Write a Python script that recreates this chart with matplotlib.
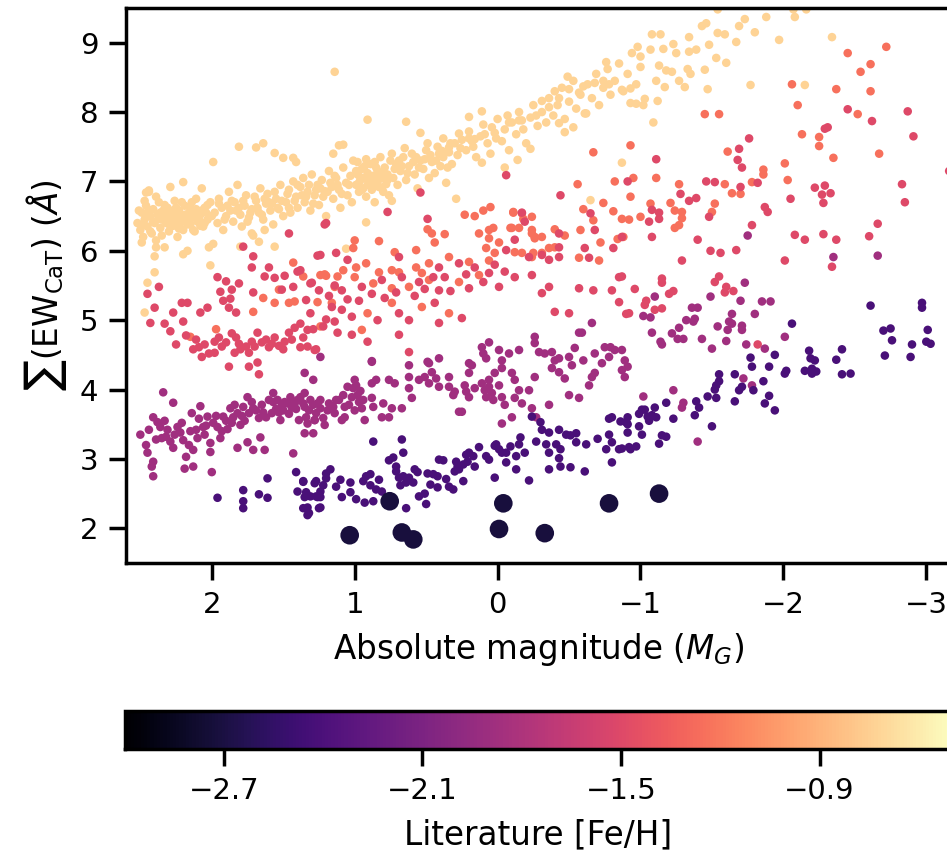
import numpy as np
import matplotlib
matplotlib.use("Agg")
from matplotlib import pyplot as plt

# literature [Fe/H] of each sequence
feh_rich = -0.73
feh_orange = -1.25
feh_red = -1.50
feh_magenta = -1.88
feh_violet = -2.42
feh_big = -2.72

# (M_G, sum EW_CaT)
rich = [
    (2.52, 6.40), (2.50, 6.30), (2.49, 6.55), (2.48, 6.20), (2.47, 6.45), (2.46, 6.65), (2.45, 6.35),
    (2.44, 6.85), (2.43, 6.50), (2.42, 6.25), (2.41, 6.60), (2.40, 6.40), (2.39, 6.15), (2.38, 6.52),
    (2.37, 6.70), (2.36, 6.33), (2.35, 6.45), (2.34, 6.58), (2.33, 6.05), (2.32, 6.40), (2.31, 6.62),
    (2.30, 6.28), (2.29, 6.48), (2.28, 6.55), (2.27, 6.36), (2.26, 6.72), (2.25, 6.44), (2.24, 6.20),
    (2.23, 6.58), (2.22, 6.40), (2.21, 6.50), (2.20, 6.30), (2.19, 6.65), (2.18, 6.45), (2.17, 6.00),
    (2.16, 6.55), (2.15, 6.38), (2.14, 6.70), (2.13, 6.48), (2.12, 6.28), (2.11, 6.60), (2.10, 6.42),
    (2.08, 6.52), (2.07, 6.90), (2.06, 6.35), (2.05, 6.62), (2.03, 6.45), (2.02, 6.05), (2.01, 6.70),
    (2.00, 6.50), (2.51, 6.58), (2.49, 6.12), (2.47, 6.72), (2.45, 6.50), (2.43, 6.28), (2.41, 6.42),
    (2.39, 6.78), (2.37, 6.46), (2.35, 6.22), (2.33, 6.66), (2.31, 6.48), (2.29, 6.35), (2.27, 6.58),
    (2.25, 6.62), (2.23, 6.32), (2.21, 6.70), (2.19, 6.52), (2.17, 6.38), (2.15, 6.62), (2.13, 6.30),
    (2.11, 6.75), (2.09, 6.46), (2.07, 6.58), (2.05, 6.40), (2.03, 6.66), (2.48, 6.38), (2.44, 6.58),
    (2.36, 6.55), (2.32, 6.52), (2.28, 6.42), (2.24, 6.50), (2.16, 6.46), (2.12, 6.56), (2.08, 6.36),
    (2.04, 6.55),
    (2.47, 5.11), (2.45, 5.54), (2.40, 5.69), (2.40, 5.92), (2.39, 6.05), (2.20, 5.95), (2.01, 5.79),
    (2.46, 6.84), (2.44, 6.87), (2.29, 6.92), (2.20, 6.99), (1.99, 7.28), (1.81, 7.50), (1.69, 7.49),
    (1.64, 7.55), (1.56, 7.41), (1.50, 7.34), (1.43, 7.34), (1.41, 7.28), (1.15, 7.40), (1.11, 7.52),
    (1.98, 6.55), (1.96, 6.40), (1.95, 6.75), (1.93, 6.62), (1.92, 6.30), (1.90, 6.50), (1.88, 6.85),
    (1.87, 6.58), (1.85, 6.42), (1.84, 6.70), (1.82, 6.95), (1.80, 6.52), (1.79, 6.35), (1.77, 6.65),
    (1.76, 6.80), (1.74, 6.48), (1.72, 6.60), (1.71, 6.22), (1.69, 6.72), (1.67, 6.55), (1.66, 6.90),
    (1.64, 6.45), (1.62, 6.68), (1.61, 6.82), (1.59, 6.58), (1.57, 6.38), (1.55, 6.75), (1.54, 6.62),
    (1.52, 6.95), (1.50, 6.50), (1.89, 6.65), (1.83, 6.58), (1.78, 6.72), (1.73, 6.55), (1.68, 6.62),
    (1.63, 6.75), (1.58, 6.68), (1.53, 6.60),
    (1.95, 6.68), (1.91, 6.45), (1.86, 6.72), (1.81, 6.62), (1.75, 6.42), (1.70, 6.78), (1.65, 6.52),
    (1.60, 6.70), (1.56, 6.85), (1.51, 6.72), (1.46, 6.62), (1.40, 6.95), (1.34, 6.78), (1.29, 6.68),
    (1.24, 6.90), (1.19, 6.85), (1.14, 7.08), (1.09, 6.82), (1.04, 6.95),
    (1.99, 6.10), (1.80, 6.06), (1.67, 6.13), (1.56, 6.06), (1.72, 6.25), (1.63, 6.30),
    (1.48, 6.70), (1.46, 6.88), (1.45, 6.55), (1.43, 7.00), (1.41, 6.78), (1.40, 6.62), (1.38, 6.92),
    (1.36, 7.05), (1.35, 6.70), (1.33, 6.85), (1.31, 6.58), (1.30, 7.10), (1.28, 6.80), (1.26, 6.95),
    (1.25, 6.66), (1.23, 7.02), (1.21, 6.86), (1.20, 6.50), (1.18, 7.15), (1.16, 6.92), (1.15, 6.75),
    (1.13, 7.05), (1.11, 6.88), (1.10, 6.62), (1.08, 7.20), (1.06, 6.98), (1.05, 6.80), (1.03, 7.08),
    (1.02, 6.70), (1.01, 7.30), (1.47, 6.82), (1.42, 6.72), (1.37, 6.80), (1.32, 6.95), (1.27, 6.88),
    (1.22, 6.78), (1.17, 6.98), (1.12, 6.95),
    (0.99, 6.95), (0.98, 7.10), (0.97, 6.85), (0.96, 7.02), (0.95, 7.18), (0.94, 6.90), (0.93, 7.05),
    (0.92, 6.78), (0.91, 7.12), (0.90, 6.98), (0.89, 7.25), (0.88, 6.88), (0.87, 7.08), (0.86, 6.70),
    (0.85, 7.00), (0.84, 7.15), (0.83, 6.92), (0.82, 7.35), (0.81, 7.05), (0.80, 6.85), (0.79, 7.20),
    (0.78, 6.96), (0.77, 7.10), (0.76, 6.80), (0.75, 7.30), (0.99, 7.15), (0.97, 6.98), (0.95, 6.88),
    (0.93, 7.22), (0.91, 6.95), (0.89, 7.08), (0.87, 6.92), (0.85, 7.20), (0.83, 7.05), (0.81, 6.90),
    (0.79, 7.10), (0.77, 7.02), (0.96, 7.06), (0.90, 7.02), (0.84, 6.98), (0.98, 7.28), (0.92, 7.32),
    (0.86, 7.28), (0.80, 7.12),
    (1.14, 8.58), (1.08, 7.53), (0.91, 7.89), (0.64, 7.86), (0.54, 7.70), (0.92, 6.41), (0.74, 6.72),
    (0.29, 6.75), (-0.65, 6.73), (-0.87, 7.27), (1.06, 6.03),
    (0.73, 7.05), (0.71, 7.25), (0.70, 6.95), (0.68, 7.15), (0.66, 7.35), (0.64, 7.02), (0.62, 7.22),
    (0.60, 7.40), (0.58, 7.10), (0.56, 6.90), (0.54, 7.30), (0.52, 7.18), (0.50, 7.45), (0.48, 7.05),
    (0.46, 7.28), (0.44, 7.12), (0.42, 7.50), (0.40, 7.22), (0.38, 7.35), (0.36, 6.98), (0.34, 7.42),
    (0.32, 7.25), (0.30, 7.55), (0.72, 7.18), (0.67, 7.22), (0.63, 7.12), (0.59, 7.28), (0.55, 7.20),
    (0.51, 7.32), (0.47, 7.38), (0.43, 7.30), (0.39, 7.44), (0.35, 7.20), (0.74, 7.40), (0.69, 7.30),
    (0.65, 7.48), (0.57, 7.35), (0.49, 7.55), (0.41, 7.40), (0.33, 7.55),
    (0.38, 7.62), (0.34, 7.49), (0.27, 7.69), (0.20, 7.62), (0.16, 7.61),
    (0.28, 7.38), (0.25, 7.60), (0.22, 7.45), (0.20, 7.72), (0.17, 7.50), (0.15, 7.35), (0.12, 7.65),
    (0.10, 7.82), (0.07, 7.55), (0.05, 7.40), (0.02, 7.70), (0.00, 7.90), (-0.03, 7.58), (-0.05, 7.75),
    (-0.08, 7.45), (-0.10, 7.85), (-0.13, 7.68), (-0.15, 8.00), (-0.18, 7.75), (-0.20, 7.55), (-0.23, 7.92),
    (-0.25, 8.10), (-0.28, 7.80), (-0.05, 7.20), (-0.14, 7.31), (0.11, 7.27), (-0.23, 7.47),
    (0.26, 7.48), (0.18, 7.58), (0.09, 7.68), (0.01, 7.62), (-0.07, 7.95), (-0.17, 7.88), (-0.27, 7.95),
    (0.11, 8.01), (0.20, 7.93), (0.04, 7.78), (-0.08, 7.85), (-0.15, 7.88),
    (-0.31, 8.00), (-0.34, 7.85), (-0.36, 8.20), (-0.39, 7.95), (-0.42, 8.10), (-0.45, 8.35), (-0.47, 7.90),
    (-0.50, 8.15), (-0.53, 8.45), (-0.55, 8.05), (-0.58, 8.25), (-0.61, 7.98), (-0.63, 8.40), (-0.66, 8.20),
    (-0.69, 8.55), (-0.71, 8.10), (-0.74, 8.35), (-0.77, 8.62), (-0.79, 8.25), (-0.40, 8.30), (-0.57, 8.28),
    (-0.68, 8.42),
    (-0.49, 8.51), (-0.50, 8.33), (-0.60, 8.37), (-0.76, 8.72), (-0.74, 8.45), (-0.78, 8.40), (-0.31, 8.16),
    (-0.36, 8.07), (-0.43, 8.20), (-0.62, 7.98), (-0.53, 7.78), (-0.47, 7.71), (-0.43, 7.84),
    (-0.82, 8.45), (-0.85, 8.70), (-0.88, 8.30), (-0.91, 8.55), (-0.94, 8.85), (-0.97, 8.40), (-1.00, 8.65),
    (-0.93, 8.13), (-0.97, 8.12), (-1.02, 8.10), (-1.09, 7.85), (-0.87, 8.32), (-0.93, 8.34), (-1.03, 8.19),
    (-1.12, 8.16), (-1.11, 8.45), (-1.17, 8.36), (-1.31, 8.36), (-1.47, 8.33), (-1.77, 8.39), (-2.15, 8.39),
    (-1.97, 9.04), (-2.34, 9.08), (-1.13, 8.67), (-1.18, 8.60), (-1.22, 8.58), (-1.27, 8.45), (-1.33, 8.62),
    (-1.35, 8.55), (-1.45, 8.61), (-0.98, 8.94), (-1.00, 8.80), (-1.07, 8.90), (-1.16, 8.91), (-1.23, 8.98),
    (-1.25, 8.85), (-1.34, 8.87), (-1.39, 8.90), (-1.48, 8.97), (-1.53, 8.78), (-1.60, 8.71), (-1.08, 9.12),
    (-1.14, 9.12), (-1.34, 9.08), (-1.43, 9.24), (-1.46, 9.28), (-1.54, 9.14), (-1.59, 9.12), (-1.67, 9.01),
    (-1.69, 9.24), (-1.73, 9.34), (-1.80, 9.15), (-1.88, 9.37), (-2.08, 9.37), (-1.54, 9.48), (-2.07, 9.48),
    (-2.16, 9.48),
]

orange = [
    (2.15, 4.76), (1.97, 4.87), (1.64, 5.32), (1.53, 5.44), (1.56, 5.25), (1.46, 5.25), (1.42, 5.27),
    (1.71, 5.12), (1.43, 5.83), (1.36, 5.63), (1.21, 5.66), (1.12, 5.63), (1.14, 5.48), (1.16, 5.25),
    (1.20, 5.64),
    (0.83, 6.14), (0.23, 6.52), (0.16, 6.50), (0.10, 6.58), (0.05, 6.63), (-0.11, 6.56), (-0.17, 6.54),
    (-0.24, 6.49), (-0.18, 6.46), (0.49, 6.31), (0.46, 6.25), (0.37, 6.24), (0.44, 6.12), (0.13, 6.25),
    (0.06, 6.30), (0.03, 6.33), (0.06, 6.18), (-0.01, 6.12), (0.08, 6.04), (0.02, 5.97), (-0.09, 6.33),
    (-0.15, 6.33), (-0.24, 6.25), (-0.26, 6.18), (-0.31, 6.20), (-0.12, 5.98), (-0.17, 5.97), (-0.24, 5.91),
    (-0.31, 5.97), (-0.40, 6.05), (1.00, 6.15), (1.01, 6.04), (1.08, 5.72), (0.99, 5.76), (0.92, 5.82),
    (0.83, 5.69), (0.74, 5.72), (0.69, 5.69), (0.57, 5.76), (0.53, 5.68), (0.72, 5.98), (0.57, 6.01),
    (0.48, 5.82), (0.34, 5.91), (0.20, 5.84), (0.06, 5.86),
    (1.24, 5.65), (1.00, 5.62), (0.87, 5.53), (0.74, 5.46), (0.62, 5.48), (0.48, 5.58), (0.27, 5.55),
    (0.13, 5.65), (1.26, 5.26), (0.91, 5.10), (0.74, 5.25), (0.53, 5.19), (0.34, 5.10), (1.24, 4.91),
    (0.95, 4.86),
    (-0.56, 6.96), (-0.67, 7.42), (-0.82, 7.00), (-0.93, 7.52), (-0.74, 6.69), (-0.81, 6.57), (-0.60, 6.60),
    (-0.67, 6.44), (-0.72, 6.12), (-0.84, 6.17), (-0.58, 6.30), (-0.57, 5.90), (-0.71, 5.86), (-0.40, 6.31),
    (-0.47, 6.22), (-0.36, 6.04), (-0.25, 5.97), (-0.26, 6.20), (-0.24, 6.30), (-0.11, 6.55), (-0.10, 6.33),
    (-2.72, 8.94), (-2.45, 8.85), (-2.61, 8.69), (-2.54, 8.58), (-2.06, 8.40), (-2.37, 8.33), (-2.61, 8.30),
    (-2.10, 8.10), (-2.52, 7.97), (-1.45, 7.97), (-1.55, 7.97), (-2.13, 7.68), (-2.25, 7.64), (-2.25, 7.51),
    (-2.67, 7.40), (-2.35, 7.34), (-1.61, 7.43), (-2.01, 7.26), (-1.11, 7.05), (-0.95, 7.05), (-0.93, 6.78),
    (-1.27, 6.96), (-1.59, 6.96), (-1.78, 6.99), (-1.86, 7.17), (-1.86, 7.10), (-2.03, 7.02), (-1.64, 6.83),
    (-1.70, 6.82), (-1.21, 6.69), (-1.07, 6.68), (-1.24, 6.58), (-1.29, 6.56), (-1.29, 6.47), (-1.24, 6.33),
    (-1.27, 6.37), (-1.52, 6.68), (-1.50, 6.56), (-0.92, 6.45), (-0.87, 6.46), (-0.88, 6.20), (-1.00, 6.49),
]

red = [
    (1.78, 6.06), (1.71, 5.92), (1.72, 5.76), (1.60, 5.76), (1.46, 6.25), (1.96, 5.62), (1.90, 5.56),
    (1.81, 5.53), (1.86, 5.44), (1.94, 5.41), (1.71, 5.40), (1.63, 5.63), (1.56, 5.61), (1.49, 5.64),
    (1.51, 5.44), (1.43, 5.48), (2.37, 5.48), (2.45, 5.38), (2.40, 5.18), (2.43, 4.96), (2.33, 4.95),
    (2.27, 5.11), (2.20, 4.98), (2.21, 5.25), (2.17, 5.25), (2.29, 4.84), (2.08, 5.11), (2.03, 5.18),
    (1.92, 5.28), (1.87, 5.31), (1.88, 5.18), (1.83, 5.11), (2.13, 4.58), (2.09, 4.61), (2.02, 4.52),
    (1.98, 4.69), (1.93, 4.62), (1.86, 4.81), (1.83, 4.75), (1.76, 4.62), (1.80, 4.58), (1.74, 4.53),
    (1.72, 4.69), (1.68, 4.82), (1.65, 4.68), (1.60, 4.61), (1.56, 4.75), (1.53, 4.63), (1.49, 4.69),
    (1.46, 4.82), (1.42, 4.89), (1.36, 4.75), (1.33, 4.62), (1.29, 4.87), (1.27, 4.58), (1.22, 4.91),
    (1.40, 5.70), (1.30, 5.54), (1.25, 5.43), (1.20, 6.40), (1.20, 5.01), (1.14, 4.98), (1.24, 5.94),
    (1.67, 4.22), (1.74, 4.33), (1.68, 4.39), (2.07, 4.47), (1.98, 4.53), (1.88, 4.33), (1.84, 4.53),
    (2.25, 4.65), (2.18, 4.78), (2.11, 4.72), (2.05, 4.65), (1.95, 4.75), (1.90, 4.68), (1.81, 4.66),
    (1.70, 4.62), (1.62, 4.72), (1.58, 4.66), (1.50, 4.58), (1.44, 4.72), (1.38, 4.95), (1.31, 5.10),
    (1.18, 5.35), (1.05, 5.30), (0.97, 5.28), (0.88, 5.38), (0.79, 5.32), (0.71, 5.40), (0.58, 5.35),
    (0.51, 5.45), (0.45, 5.62), (0.33, 5.42), (0.22, 5.66), (0.10, 5.55), (0.02, 5.80), (-0.05, 5.70),
    (1.21, 6.38), (0.77, 6.56), (-0.06, 7.09), (-0.44, 6.80), (0.54, 6.84), (0.49, 6.46), (1.26, 5.93),
    (1.13, 5.97), (1.05, 5.87), (0.69, 5.91), (0.41, 5.76), (0.27, 5.82), (0.16, 5.76), (1.38, 5.72),
    (1.31, 5.53), (1.14, 5.50), (1.09, 5.43), (0.95, 5.48), (0.81, 5.58), (0.67, 5.62), (0.55, 5.55),
    (0.41, 5.43), (0.37, 5.62), (0.20, 5.46), (0.06, 5.68), (-0.01, 5.48), (1.34, 5.29), (1.16, 5.19),
    (1.09, 5.15), (1.02, 5.05), (0.84, 5.00), (0.69, 5.10), (0.62, 5.00), (0.44, 5.25), (0.41, 4.96),
    (0.25, 5.03), (1.33, 4.86), (1.12, 4.82), (1.02, 4.79), (0.91, 4.69), (0.69, 4.79), (1.38, 4.61),
    (1.28, 4.57), (0.62, 4.54),
    (-0.12, 5.62), (-0.24, 5.65), (-0.36, 5.48), (-0.31, 5.39), (-0.40, 5.12), (-0.50, 5.10), (-0.57, 5.46),
    (-0.67, 5.43), (-0.85, 5.62), (-0.80, 5.43), (-0.85, 5.26), (-0.92, 5.10), (-0.43, 6.25), (-0.43, 6.05),
    (-0.31, 5.94), (-0.36, 5.87), (-0.22, 5.91), (-0.19, 6.42), (-0.17, 6.55), (-0.12, 6.16), (-0.06, 6.01),
    (-0.65, 6.54), (-0.68, 6.30), (-0.81, 6.04), (-0.87, 6.20), (-0.61, 6.04), (-0.64, 5.90), (-0.43, 5.91),
    (-2.45, 8.04), (-2.87, 8.01), (-2.62, 7.87), (-2.31, 7.78), (-2.29, 7.76), (-2.91, 7.65), (-1.76, 7.62),
    (-1.69, 7.47), (-1.11, 7.32), (-3.16, 7.15), (-1.68, 7.31), (-1.71, 7.20), (-0.91, 7.00), (-1.46, 7.00),
    (-1.52, 6.99), (-1.82, 6.98), (-1.70, 6.92), (-2.22, 6.91), (-2.29, 6.94), (-2.27, 6.81), (-2.33, 6.83),
    (-2.28, 6.69), (-2.05, 6.75), (-2.83, 6.96), (-2.85, 6.70), (-1.28, 6.82), (-1.34, 6.72), (-1.39, 6.76),
    (-1.08, 6.59), (-1.13, 6.55), (-1.13, 6.46), (-1.06, 6.42), (-1.48, 6.49), (-1.87, 6.63), (-1.89, 6.56),
    (-1.78, 6.37), (-1.08, 6.20), (-1.40, 6.16), (-2.08, 6.23), (-2.15, 6.16), (-2.28, 6.24), (-2.37, 6.16),
    (-2.60, 6.21), (-2.66, 6.39), (-1.29, 5.86), (-1.49, 6.00), (-1.56, 5.97), (-1.67, 6.01), (-2.01, 5.86),
    (-2.34, 5.77),
    (-0.87, 5.63), (-0.96, 5.45), (-1.15, 5.60), (-1.15, 5.54), (-1.20, 5.38), (-1.23, 5.42), (-0.90, 5.09),
    (-1.04, 5.28), (-1.03, 5.22), (-1.10, 5.15), (-1.15, 5.17), (-1.52, 5.55), (-1.55, 5.63), (-1.60, 5.48),
    (-1.59, 5.40), (-1.65, 5.42), (-1.82, 4.65),
]

magenta = [
    (2.50, 3.35), (2.46, 3.20), (2.45, 3.09), (2.41, 2.96), (2.41, 2.75), (2.42, 2.89), (2.41, 3.60),
    (2.38, 3.53), (2.36, 3.46), (2.34, 3.96), (2.32, 3.32), (2.27, 3.16), (2.31, 3.42), (2.27, 3.81),
    (2.24, 3.46), (2.20, 3.27), (2.18, 3.03), (2.19, 2.86), (2.13, 2.89), (2.13, 3.13), (2.10, 3.30),
    (2.14, 3.66), (2.08, 3.76), (2.06, 3.46), (2.03, 3.61), (2.01, 3.23), (2.00, 2.81), (2.01, 3.10),
    (1.96, 3.46), (1.94, 3.30), (1.92, 3.61), (1.89, 3.43), (1.87, 3.73), (1.85, 3.60), (1.82, 3.66),
    (1.78, 3.75), (1.75, 3.89), (1.74, 3.66), (1.71, 3.73), (1.80, 3.49), (1.82, 3.16), (1.75, 3.24),
    (1.71, 3.13), (1.66, 3.31), (1.63, 3.13), (1.67, 3.59), (1.64, 3.67), (1.60, 3.85), (1.57, 3.82),
    (1.57, 3.95), (1.54, 3.85), (1.53, 3.67), (1.52, 3.56), (1.49, 3.82), (1.47, 3.80), (1.45, 3.89),
    (1.42, 3.80), (1.40, 3.85), (1.39, 3.56), (1.36, 3.80), (1.43, 3.08), (1.35, 3.95), (1.35, 3.37),
    (1.32, 3.70), (1.29, 3.37), (1.28, 3.56), (1.26, 3.80), (1.35, 4.24), (1.29, 4.14),
    (2.35, 3.30), (2.29, 3.25), (2.22, 3.38), (2.16, 3.20), (2.11, 3.42), (2.05, 3.35), (1.99, 3.52),
    (1.93, 3.40), (1.86, 3.52), (1.79, 3.62), (1.69, 3.70), (1.62, 3.60), (1.55, 3.72), (1.50, 3.70),
    (1.44, 3.74), (2.44, 3.42), (2.39, 3.28), (2.33, 3.55), (2.26, 3.35), (2.21, 3.52), (2.15, 3.40),
    (2.09, 3.58), (2.04, 3.48), (1.97, 3.62), (1.90, 3.55), (1.84, 3.78), (1.77, 3.55), (1.72, 3.82),
    (1.65, 3.78), (1.58, 3.66), (1.51, 3.78), (1.46, 3.65), (1.41, 3.72), (1.31, 3.85), (1.19, 3.70),
    (1.11, 3.85), (1.04, 3.78), (0.96, 3.98), (1.00, 3.70), (1.08, 3.92),
    (1.38, 3.89), (1.35, 3.75), (1.34, 3.60), (1.33, 3.51), (1.29, 3.78), (1.28, 3.56), (1.27, 3.66),
    (1.24, 3.85), (1.24, 3.73), (1.22, 3.59), (1.21, 3.49), (1.18, 3.80), (1.15, 3.75), (1.14, 3.66),
    (1.13, 3.85), (1.09, 3.56), (1.07, 3.75), (1.07, 3.60), (1.02, 3.89), (1.01, 4.02), (1.00, 4.14),
    (0.99, 4.06), (1.05, 4.04), (0.98, 3.92), (0.97, 3.82), (0.94, 3.85), (0.95, 3.73), (0.93, 3.56),
    (0.88, 4.40), (0.88, 4.09), (0.88, 3.88), (0.87, 3.75), (0.85, 4.14), (0.80, 3.80), (0.81, 3.60),
    (0.76, 3.60), (0.74, 3.73), (0.72, 4.09), (0.76, 4.14), (0.67, 3.73), (0.62, 4.02), (0.60, 3.88),
    (0.62, 4.18), (0.55, 4.14), (0.51, 4.18), (0.49, 4.40), (0.48, 4.09), (0.46, 4.25), (0.43, 4.16),
    (0.41, 4.45), (0.41, 4.04), (0.34, 4.18), (0.34, 4.04), (0.30, 3.97), (0.31, 3.92), (0.27, 3.68),
    (0.25, 3.68), (0.23, 4.06), (0.22, 3.97), (0.20, 4.24), (0.18, 4.35), (0.20, 3.89), (0.16, 4.02),
    (0.11, 4.09), (0.09, 3.99), (0.08, 3.89), (0.06, 4.14), (0.06, 4.04), (0.04, 3.95), (0.03, 3.85),
    (-0.01, 4.06), (-0.03, 3.89), (-0.05, 3.78), (0.02, 4.24), (-0.03, 4.31), (-0.10, 4.24), (-0.12, 4.14),
    (-0.15, 3.99), (-0.17, 3.80), (-0.10, 3.60), (-0.03, 3.51), (-0.12, 3.88), (-0.22, 3.99), (-0.24, 3.73),
    (-0.26, 4.18), (-0.27, 3.60), (-0.36, 3.78), (-0.38, 4.31), (-0.40, 4.42), (-0.43, 4.25), (-0.47, 4.16),
    (-0.50, 3.92), (-0.52, 4.35), (-0.57, 3.88), (-0.60, 4.42), (-0.64, 4.06), (-0.66, 4.18), (-0.68, 4.24),
    (-0.73, 4.38), (-0.78, 4.47), (-0.79, 4.61), (-0.87, 4.57), (-0.89, 4.42), (-0.91, 4.33), (-0.87, 4.28),
    (-0.89, 4.18),
    (1.24, 4.47), (0.88, 4.41), (0.62, 4.35), (0.48, 4.38), (0.20, 4.38), (0.11, 4.61), (0.10, 4.52),
    (0.08, 4.45), (0.06, 4.68), (-0.01, 4.57), (-0.03, 4.42), (-0.08, 4.52), (-0.15, 4.57), (-0.26, 4.67),
    (-0.29, 4.54), (-0.33, 4.52), (-0.38, 4.54), (-0.43, 4.45), (-0.50, 4.47), (-0.54, 4.60), (-0.59, 4.82),
    (-0.68, 4.52), (-0.75, 4.61), (-0.82, 4.57), (-0.26, 4.76), (-0.57, 4.82), (-0.66, 4.96),
    (-1.10, 5.34), (-1.02, 5.06), (-1.07, 5.04), (-1.73, 5.54), (-1.49, 5.34), (-1.70, 5.28), (-1.85, 5.27),
    (-1.91, 5.27), (-1.36, 5.18), (-1.40, 5.18), (-1.32, 5.00), (-1.37, 4.98), (-1.38, 5.02), (-1.80, 5.09),
    (-1.64, 5.09), (-1.62, 4.98), (-1.64, 4.95), (-1.61, 4.86), (-1.71, 4.92), (-1.71, 4.86), (-1.54, 4.91),
    (-1.27, 4.89), (-1.22, 4.81), (-1.26, 4.73), (-1.30, 4.73), (-1.08, 4.82), (-1.14, 4.69), (-1.15, 4.65),
    (-1.43, 4.73), (-1.60, 4.70), (-1.50, 4.59), (-1.74, 4.65), (-1.87, 4.59), (-2.01, 4.76), (-1.72, 4.16),
    (-1.78, 4.06), (-1.40, 3.25), (-1.30, 3.81), (-1.29, 3.74), (-1.02, 3.90), (-1.23, 3.99),
    (-1.75, 6.22), (-2.35, 5.91), (-2.66, 5.93),
]

violet = [
    (1.96, 2.44), (1.78, 2.55), (1.78, 2.39), (1.78, 2.29), (1.67, 2.49), (1.61, 2.72), (1.61, 2.44),
    (1.41, 2.81), (1.40, 2.53), (1.36, 2.67), (1.35, 2.45), (1.36, 2.29), (1.33, 2.19), (1.28, 2.65),
    (1.26, 2.45), (1.25, 2.29),
    (1.36, 2.68), (1.34, 2.52), (1.31, 2.46), (1.33, 2.30), (1.32, 2.22), (1.27, 2.68), (1.20, 2.79),
    (1.17, 2.85), (1.20, 2.72), (1.22, 2.62), (1.24, 2.53), (1.27, 2.46), (1.24, 2.45), (1.24, 2.30),
    (1.13, 2.60), (1.10, 2.70), (1.09, 2.45), (1.03, 2.66), (1.03, 2.52), (0.99, 2.42), (0.94, 2.68),
    (0.92, 2.75), (0.89, 2.78), (0.93, 2.37), (0.89, 2.62), (0.85, 2.56), (0.87, 2.39), (0.83, 2.70),
    (0.81, 2.53), (0.76, 2.98), (0.73, 3.02), (0.71, 2.89), (0.71, 2.82), (0.69, 2.73), (0.66, 2.75),
    (0.64, 2.66), (0.62, 2.73), (0.68, 2.62), (0.67, 3.28), (0.66, 3.09), (0.87, 3.25), (0.58, 2.85),
    (0.56, 2.81), (0.59, 2.66), (0.55, 2.46), (0.51, 2.50), (0.50, 2.35), (0.64, 2.29), (0.49, 2.79),
    (0.45, 2.78), (0.42, 2.75), (0.47, 2.63), (0.42, 2.59), (0.36, 2.71), (0.41, 2.99), (0.38, 2.98),
    (0.34, 2.60), (0.31, 2.56), (0.29, 2.96), (0.28, 2.89), (0.27, 2.85), (0.24, 2.92), (0.30, 2.82),
    (0.24, 2.68), (0.22, 3.06), (0.20, 3.09), (0.17, 3.04), (0.21, 2.96), (0.16, 2.89), (0.13, 3.17),
    (0.08, 3.04), (0.06, 2.99), (0.02, 3.19), (0.01, 3.21), (-0.01, 3.14), (-0.03, 3.09), (0.02, 2.73),
    (-0.06, 3.09), (-0.06, 2.95), (-0.09, 3.18), (-0.13, 2.85), (-0.13, 3.04), (-0.16, 3.31), (-0.15, 3.21),
    (-0.19, 3.09), (-0.22, 2.69), (-0.24, 3.61), (-0.27, 3.25), (-0.30, 3.53), (-0.31, 3.42), (-0.36, 3.38),
    (-0.34, 3.21), (-0.36, 3.09), (-0.36, 2.85), (-0.43, 3.42), (-0.48, 3.35), (-0.51, 3.34), (-0.55, 3.37),
    (-0.41, 3.21), (-0.44, 3.14), (-0.43, 3.01), (-0.44, 2.89), (-0.51, 2.88), (-0.61, 2.82), (-0.55, 3.24),
    (-0.62, 3.21), (-0.70, 3.29), (-0.78, 3.58), (-0.80, 3.60), (-0.86, 3.54), (-0.90, 3.53), (-0.78, 3.35),
    (-0.76, 3.14), (-0.80, 3.24), (-0.85, 3.14), (-0.91, 3.38), (-0.92, 3.17), (-0.80, 2.95),
    (-2.06, 4.95), (-2.61, 5.21), (-2.97, 5.25), (-2.97, 5.18), (-2.70, 4.85), (-2.75, 4.88), (-2.76, 4.71),
    (-3.01, 4.86), (-2.90, 4.65), (-3.00, 4.69), (-3.03, 4.66), (-2.71, 4.49), (-2.89, 4.47), (-2.41, 4.58),
    (-2.37, 4.43), (-2.18, 4.56), (-2.19, 4.45), (-2.22, 4.42), (-2.15, 4.27), (-2.20, 4.30), (-2.20, 4.23),
    (-2.23, 4.26), (-2.41, 4.22), (-2.47, 4.23), (-2.01, 4.23), (-2.02, 4.27), (-1.94, 4.50), (-1.90, 4.33),
    (-1.77, 4.46), (-1.78, 4.33), (-1.66, 4.22), (-1.86, 4.12), (-1.69, 3.99), (-1.71, 4.04), (-1.79, 3.99),
    (-1.90, 3.91), (-1.87, 3.80), (-1.94, 3.70), (-1.66, 3.83), (-1.55, 4.22), (-1.55, 4.12), (-1.53, 4.06),
    (-1.52, 4.00), (-1.47, 3.90), (-1.53, 3.88), (-1.39, 3.83), (-1.41, 3.74), (-1.38, 3.63), (-1.50, 3.47),
    (-1.18, 3.81), (-1.10, 3.74), (-0.99, 3.65), (-1.01, 3.71), (-1.03, 3.71), (-1.05, 3.61), (-1.08, 3.63),
    (-1.11, 3.60), (-1.06, 3.55), (-1.23, 3.58), (-0.91, 3.60), (-0.90, 3.53), (-0.91, 3.50), (-0.99, 3.47),
    (-1.01, 3.35), (-1.15, 3.34), (-1.18, 3.32), (-1.13, 3.22), (-0.97, 3.18), (-0.93, 3.14), (-0.87, 3.15),
]

big = [
    (1.035, 1.90), (0.755, 2.39), (0.67, 1.94), (0.59, 1.84), (-0.04, 2.36),
    (-0.01, 1.99), (-0.33, 1.93), (-0.78, 2.36), (-1.13, 2.50),
]

groups = [(rich, feh_rich), (orange, feh_orange), (red, feh_red),
          (magenta, feh_magenta), (violet, feh_violet)]

mg, ew, feh = [], [], []
for pts, val in groups:
    arr = np.array(pts)
    mg.append(arr[:, 0])
    ew.append(arr[:, 1])
    feh.append(np.full(len(arr), val))
mg = np.concatenate(mg)
ew = np.concatenate(ew)
feh = np.concatenate(feh)
big = np.array(big)

plt.rcParams["font.family"] = "DejaVu Sans"
plt.rcParams["mathtext.fontset"] = "dejavusans"

fig = plt.figure(figsize=(9.47, 8.59), dpi=100)
ax = fig.add_axes([0.1331, 0.3446, 0.8722, 0.6461])
cax = fig.add_axes([0.1315, 0.128, 0.8738, 0.0442])

sc = ax.scatter(mg, ew, c=feh, cmap="magma", vmin=-3.0, vmax=-0.5,
                s=38, linewidths=0)
ax.scatter(big[:, 0], big[:, 1], c=np.full(len(big), feh_big), cmap="magma",
           vmin=-3.0, vmax=-0.5, s=180, linewidths=0, zorder=3)

ax.set_xlim(2.6, -3.18)
ax.set_ylim(1.5, 9.5)
ax.set_xticks([2, 1, 0, -1, -2, -3])
ax.set_yticks([2, 3, 4, 5, 6, 7, 8, 9])
ax.set_xlabel(r"Absolute magnitude ($M_G$)", fontsize=23.5, labelpad=9)
ax.set_ylabel(r"$\sum(\mathrm{EW_{CaT}})$ $(\AA)$", fontsize=23.5, labelpad=8)

ax.tick_params(labelsize=21, length=12, width=2.5, pad=8)
for sp in ax.spines.values():
    sp.set_linewidth(2.5)

cb = fig.colorbar(sc, cax=cax, orientation="horizontal", ticks=[-2.7, -2.1, -1.5, -0.9])
cb.outline.set_linewidth(2.5)
cb.set_label("Literature [Fe/H]", fontsize=23.5, labelpad=10)
cax.tick_params(labelsize=21, length=12, width=2.5, pad=8)

fig.savefig("out.png", dpi=100)
